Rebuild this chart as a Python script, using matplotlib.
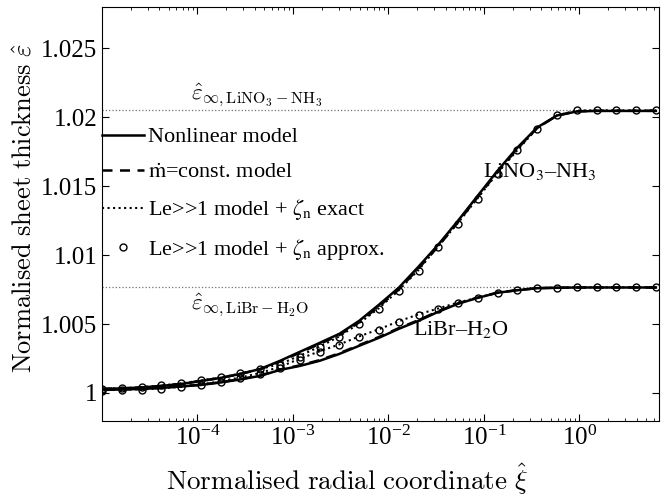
import matplotlib
matplotlib.use("Agg")
import matplotlib.pyplot as plt
import numpy as np

plt.rcParams['font.family'] = ['Liberation Serif', 'DejaVu Serif']
plt.rcParams['mathtext.fontset'] = 'stix'

# sample grid in the radial coordinate (markers sit on every point)
xi = np.logspace(-5, 0.8, 29)

# LiNO3-NH3 (deviation from 1)
lino3_nonlin = [0.00029, 0.00033, 0.00040, 0.00051, 0.00065, 0.00087, 0.00109, 0.00138,
                0.00174, 0.00233, 0.00298, 0.00363, 0.00429, 0.00523, 0.00640, 0.00763,
                0.00916, 0.01076, 0.01250, 0.01432, 0.01613, 0.01780, 0.01926, 0.02013,
                0.02042, 0.02046, 0.02046, 0.02046, 0.02046]
lino3_mdot = [0.00029, 0.00033, 0.00040, 0.00051, 0.00065, 0.00087, 0.00109, 0.00138,
              0.00172, 0.00228, 0.00292, 0.00355, 0.00420, 0.00512, 0.00628, 0.00750,
              0.00903, 0.01064, 0.01240, 0.01422, 0.01604, 0.01772, 0.01922, 0.02012,
              0.02043, 0.02047, 0.02047, 0.02047, 0.02047]
lino3_exact = [0.00029, 0.00034, 0.00042, 0.00054, 0.00069, 0.00090, 0.00112, 0.00141,
               0.00174, 0.00210, 0.00270, 0.00335, 0.00410, 0.00505, 0.00615, 0.00745,
               0.00892, 0.01066, 0.01234, 0.01415, 0.01596, 0.01762, 0.01920, 0.02014,
               0.02049, 0.02050, 0.02050, 0.02050, 0.02050]
lino3_approx = [0.00029, 0.00036, 0.00044, 0.00058, 0.00073, 0.00094, 0.00116, 0.00145,
                0.00174, 0.00203, 0.00262, 0.00330, 0.00407, 0.00501, 0.00610, 0.00741,
                0.00886, 0.01061, 0.01228, 0.01410, 0.01591, 0.01759, 0.01918, 0.02013,
                0.02050, 0.02050, 0.02050, 0.02050, 0.02050]

# LiBr-H2O
libr_nonlin = [0.00022, 0.00025, 0.00029, 0.00036, 0.00047, 0.00058, 0.00076, 0.00098,
               0.00124, 0.00167, 0.00196, 0.00233, 0.00283, 0.00342, 0.00400, 0.00465,
               0.00523, 0.00589, 0.00647, 0.00690, 0.00727, 0.00745, 0.00760, 0.00763,
               0.00765, 0.00765, 0.00765, 0.00765, 0.00765]
libr_mdot = [0.00022, 0.00025, 0.00029, 0.00037, 0.00048, 0.00060, 0.00078, 0.00100,
             0.00127, 0.00170, 0.00200, 0.00238, 0.00288, 0.00347, 0.00406, 0.00470,
             0.00528, 0.00593, 0.00650, 0.00692, 0.00728, 0.00746, 0.00760, 0.00763,
             0.00765, 0.00765, 0.00765, 0.00765, 0.00765]
libr_exact = [0.00020, 0.00024, 0.00026, 0.00032, 0.00045, 0.00060, 0.00085, 0.00112,
              0.00145, 0.00190, 0.00248, 0.00302, 0.00352, 0.00410, 0.00462, 0.00520,
              0.00570, 0.00613, 0.00656, 0.00692, 0.00728, 0.00746, 0.00761, 0.00764,
              0.00766, 0.00766, 0.00766, 0.00766, 0.00766]
libr_approx = [0.00015, 0.00022, 0.00018, 0.00029, 0.00044, 0.00058, 0.00080, 0.00109,
               0.00138, 0.00182, 0.00240, 0.00298, 0.00349, 0.00407, 0.00458, 0.00516,
               0.00567, 0.00610, 0.00654, 0.00690, 0.00727, 0.00745, 0.00760, 0.00763,
               0.00766, 0.00766, 0.00766, 0.00766, 0.00766]

eps_inf_lino3 = 1.0205
eps_inf_libr = 1.0077

yticks = [1, 1.005, 1.01, 1.015, 1.02, 1.025]
ytick_labels = ['1', '1.005', '1.01', '1.015', '1.02', '1.025']

fig = plt.figure(figsize=(6.64, 4.98), dpi=100)
ax = fig.add_axes([102 / 664, 1 - 420.5 / 498, 557 / 664, 413.5 / 498])

# reference levels
ax.axhline(eps_inf_lino3, color='0.45', ls=':', lw=0.9)
ax.axhline(eps_inf_libr, color='0.45', ls=':', lw=0.9)

lw = 1.8
dash = (0, (4, 3))
for nonlin, mdot, exact, approx in [(lino3_nonlin, lino3_mdot, lino3_exact, lino3_approx),
                                    (libr_nonlin, libr_mdot, libr_exact, libr_approx)]:
    ax.plot(xi, 1 + np.array(nonlin), 'k-', lw=lw)
    ax.plot(xi, 1 + np.array(mdot), color='k', ls=dash, lw=lw)
    ax.plot(xi, 1 + np.array(exact), color='k', ls=':', lw=1.5)
    ax.plot(xi, 1 + np.array(approx), 'o', color='k', mfc='none', ms=5, mew=1.0, ls='none')

# legend proxies
h1, = ax.plot([], [], 'k-', lw=lw)
h2, = ax.plot([], [], color='k', ls=dash, lw=lw)
h3, = ax.plot([], [], color='k', ls=':', lw=1.5)
h4, = ax.plot([], [], 'o', color='k', mfc='none', ms=5, mew=1.0, ls='none')
ax.legend([h1, h2, h3, h4],
          ['Nonlinear model', r'$\dot{\mathrm{m}}$=const. model',
           r'Le>>1 model + $\zeta_\mathrm{n}$ exact',
           r'Le>>1 model + $\zeta_\mathrm{n}$ approx.'],
          loc='upper left', bbox_to_anchor=(0.0, 0.71), frameon=False,
          fontsize=16, handlelength=1.9, handletextpad=0.15, labelspacing=0.66,
          borderaxespad=0, borderpad=0)

ax.text(0.098, 1.0157, r'LiNO$_3$–NH$_3$', fontsize=16, ha='left', va='baseline')
ax.text(0.0181, 1.0042, r'LiBr–H$_2$O', fontsize=16, ha='left', va='baseline')
ax.text(8.45e-5, 1.0207, r'$\hat{\varepsilon}_{\infty,\mathrm{LiNO_3-NH_3}}$',
        fontsize=16.5, math_fontfamily='cm', ha='left', va='bottom')
ax.text(8.45e-5, 1.0074, r'$\hat{\varepsilon}_{\infty,\mathrm{LiBr-H_2O}}$',
        fontsize=16.5, math_fontfamily='cm', ha='left', va='top')

ax.set_xscale('log')
ax.set_xlim(1e-5, 6.8)
ax.set_ylim(0.998, 1.028)
ax.set_yticks(yticks)
ax.set_yticklabels(ytick_labels)
ax.set_xticks([1e-4, 1e-3, 1e-2, 1e-1, 1])
ax.tick_params(which='both', direction='in', top=True, right=True, labelsize=18)
ax.tick_params(which='major', length=5, width=0.8)
ax.tick_params(which='minor', length=2.5, width=0.6)

ax.set_xlabel(r'$\mathrm{Normalised\ radial\ coordinate}\ \hat{\xi}$', fontsize=19.5,
              math_fontfamily='cm')
ax.set_ylabel(r'$\mathrm{Normalised\ sheet\ thickness}\ \hat{\varepsilon}$', fontsize=19,
              math_fontfamily='cm')
ax.xaxis.set_label_coords(0.44, -0.1)
ax.yaxis.set_label_coords(-0.117, 0.515)

fig.savefig('out.png', dpi=100)
